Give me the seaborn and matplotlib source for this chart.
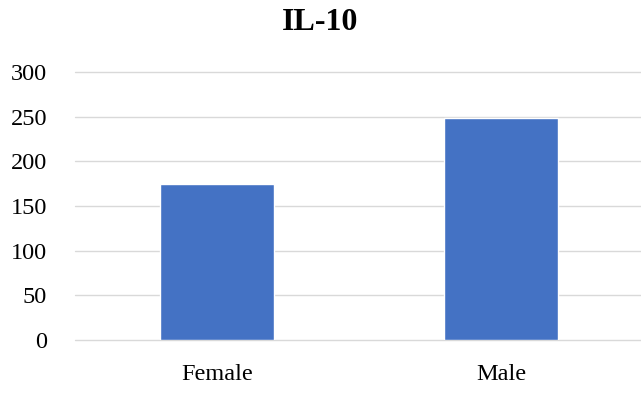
import matplotlib
matplotlib.use("Agg")
import matplotlib.pyplot as plt
import seaborn as sns
import pandas as pd

# data
groups = ["Female", "Male"]
il10 = [175, 248]

sns.set_style("white")
plt.rcParams['font.family'] = ['Liberation Serif', 'DejaVu Serif']

df = pd.DataFrame({"group": groups, "value": il10})

fig = plt.figure(figsize=(6.41, 3.94), dpi=100)
ax = fig.add_axes([75/641, 1 - 340/394, 568/641, 268/394])

sns.barplot(data=df, x="group", y="value", color="#4472C4", width=0.4,
            saturation=1, ax=ax, zorder=3)

ax.set_ylim(0, 300)
ax.set_yticks(range(0, 301, 50))
ax.yaxis.grid(True, color="#D9D9D9", linewidth=1.0, zorder=0)
for gl in ax.get_ygridlines():
    gl.set_clip_on(False)
ax.set_axisbelow(True)
for s in ax.spines.values():
    s.set_visible(False)
ax.set_xlabel("")
ax.set_ylabel("")
ax.tick_params(axis="y", length=0, pad=20, labelsize=17.5, labelcolor="black")
ax.tick_params(axis="x", length=0, pad=17, labelsize=17.5, labelcolor="black")

fig.text(0.5, 1 - 22/394, "IL-10", ha="center", va="center",
         fontsize=23, fontweight="bold", color="black")

fig.savefig("out.png", dpi=100)
